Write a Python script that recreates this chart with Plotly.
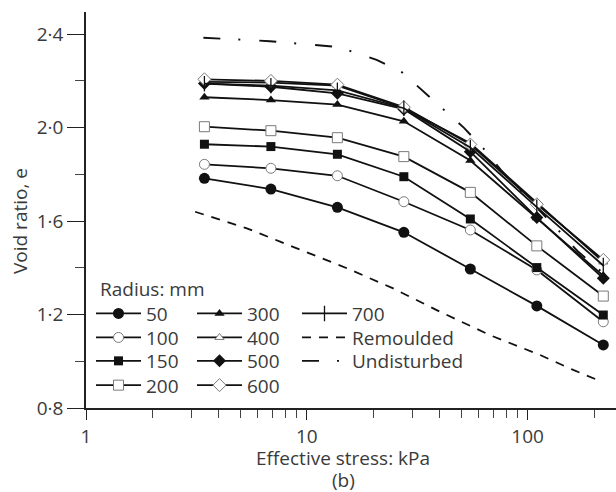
import plotly.graph_objects as go

# ---------------- data ----------------
stress = [3.4375, 6.875, 13.75, 27.5, 55, 110, 220]

e_50  = [1.783, 1.737, 1.659, 1.552, 1.395, 1.237, 1.070]
e_100 = [1.843, 1.826, 1.794, 1.683, 1.562, 1.391, 1.169]
e_150 = [1.929, 1.919, 1.886, 1.790, 1.609, 1.401, 1.198]
e_200 = [2.004, 1.987, 1.957, 1.876, 1.723, 1.494, 1.279]
e_300 = [2.130, 2.118, 2.099, 2.027, 1.859, 1.613, 1.366]
e_400 = [2.196, 2.193, 2.180, 2.084, 1.933, 1.679, 1.425]
e_500 = [2.189, 2.175, 2.147, 2.079, 1.897, 1.615, 1.355]
e_600 = [2.207, 2.200, 2.184, 2.088, 1.928, 1.672, 1.434]
e_700 = [2.188, 2.180, 2.160, 2.083, 1.915, 1.660, 1.410]

remoulded_x = [3.12, 5.35, 7.57, 10.7, 15.2, 24.6, 34.9, 40.1, 67.5, 113.7, 160.8, 212]
remoulded_e = [1.640, 1.569, 1.512, 1.455, 1.398, 1.312, 1.241, 1.212, 1.112, 1.027, 0.963, 0.916]

undisturbed_x = [3.4, 6.8, 13.9, 20.7, 27, 51.5, 62.9, 75.6, 137.5, 168, 215]
undisturbed_e = [2.385, 2.370, 2.345, 2.290, 2.237, 1.999, 1.912, 1.819, 1.562, 1.472, 1.385]

y_ticks = [0.8, 1.2, 1.6, 2.0, 2.4]
y_ticktext = ["0·8", "1·2", "1·6", "2·0", "2·4"]
x_ticks = [1, 10, 100]
x_ticktext = ["1", "10", "100"]
x_minor = [2, 3, 4, 5, 6, 7, 8, 9, 20, 30, 40, 50, 60, 70, 80, 90, 200]
y_minor = [1.0, 1.4, 1.8, 2.2]

x_title = "Effective stress: kPa"
panel_label = "(b)"
y_title = "Void ratio, e"
legend_title = "Radius: mm"

# ---------------- styling ----------------
FONT = "Open Sans"
FS = 19
TXT = "#3a3a3a"
BLACK = "#111111"
GREY = "#7a7a7a"

W, H = 616, 492
ML, MR, MT, MB = 86, 0, 12, 84
PW, PH = W - ML - MR, H - MT - MB

def px_to_paper_x(px):
    return (px - ML) / PW

def py_to_paper_y(py):
    return (H - MB - py) / PH

# legend cells: (column x of legend box, row centre y)
COLS = [91, 192, 297]
ROWS = [314.3, 338.3, 361.7, 386.0]

series = [
    ("50",  e_50,  dict(symbol="circle", size=11, color=BLACK), (0, 0)),
    ("100", e_100, dict(symbol="circle", size=10, color="white", line=dict(color=GREY, width=1)), (0, 1)),
    ("150", e_150, dict(symbol="square", size=9, color=BLACK), (0, 2)),
    ("200", e_200, dict(symbol="square", size=10, color="white", line=dict(color=GREY, width=1)), (0, 3)),
    ("300", e_300, dict(symbol="triangle-up", size=9, color=BLACK), (1, 0)),
    ("400", e_400, dict(symbol="triangle-up", size=8, color="white", line=dict(color=GREY, width=1)), (1, 1)),
    ("500", e_500, dict(symbol="diamond", size=10, color=BLACK), (1, 2)),
    ("600", e_600, dict(symbol="diamond", size=10, color="white", line=dict(color=GREY, width=1)), (1, 3)),
    ("700", e_700, dict(symbol="line-ns", size=11, color=BLACK, line=dict(color=BLACK, width=1.3)), (2, 0)),
]

txt_font = dict(family=FONT, size=FS, color=TXT)

fig = go.Figure()
legends = {}
counter = [0]

def new_legend(cell):
    counter[0] += 1
    key = "legend" if counter[0] == 1 else f"legend{counter[0]}"
    col, row = cell
    legends[key] = dict(
        xref="paper", yref="paper", xanchor="left", yanchor="top",
        x=px_to_paper_x(COLS[col]), y=py_to_paper_y(ROWS[row] - 19.7),
        bgcolor="rgba(0,0,0,0)", borderwidth=0, itemwidth=45,
        font=txt_font, itemclick=False, itemdoubleclick=False,
    )
    return key

fig.add_trace(go.Scatter(
    x=remoulded_x, y=remoulded_e, mode="lines", name="Remoulded",
    line=dict(color=BLACK, width=1.8, dash="9px,8px"), legend=new_legend((2, 1))))
fig.add_trace(go.Scatter(
    x=undisturbed_x, y=undisturbed_e, mode="lines", name="Undisturbed",
    line=dict(color=BLACK, width=1.9, dash="17px,18px,2px,19px"), legend=new_legend((2, 2))))

for name, ys, mk, cell in series:
    fig.add_trace(go.Scatter(
        x=stress, y=ys, mode="lines+markers", name=name,
        line=dict(color=BLACK, width=1.8), marker=mk, legend=new_legend(cell)))

fig.update_layout(
    width=W, height=H,
    margin=dict(l=ML, r=MR, t=MT, b=MB),
    paper_bgcolor="white", plot_bgcolor="white",
    font=txt_font,
    showlegend=True,
    annotations=[
        dict(text=legend_title, xref="paper", yref="paper", showarrow=False,
             x=px_to_paper_x(99), y=py_to_paper_y(289), xanchor="left", yanchor="middle",
             borderpad=0, font=txt_font),
        dict(text=x_title, xref="paper", yref="paper", showarrow=False,
             x=px_to_paper_x(343), y=py_to_paper_y(458), xanchor="center", yanchor="middle",
             borderpad=0, font=txt_font),
        dict(text=panel_label, xref="paper", yref="paper", showarrow=False,
             x=px_to_paper_x(343), y=py_to_paper_y(480), xanchor="center", yanchor="middle",
             borderpad=0, font=txt_font),
        dict(text=y_title, xref="paper", yref="paper", showarrow=False, textangle=-90,
             x=px_to_paper_x(20), y=py_to_paper_y(221), xanchor="center", yanchor="middle",
             font=txt_font),
    ],
    **legends,
)

fig.update_xaxes(
    type="log", range=[0, 2.4],
    tickmode="array", tickvals=x_ticks, ticktext=x_ticktext,
    ticks="outside", ticklen=10, tickwidth=1.3, tickcolor="#222",
    showline=True, linecolor="#222", linewidth=1.5,
    showgrid=False, zeroline=False,
    tickfont=txt_font,
    minor=dict(tickmode="array", tickvals=x_minor, ticks="outside", ticklen=8,
               tickwidth=1, tickcolor="#444", showgrid=False),
    automargin=False,
)
fig.update_yaxes(
    range=[0.8, 2.495],
    tickmode="array", tickvals=y_ticks, ticktext=y_ticktext,
    ticks="outside", ticklen=17, tickwidth=1.3, tickcolor="#222",
    showline=True, linecolor="#222", linewidth=1.5,
    showgrid=False, zeroline=False,
    tickfont=txt_font,
    minor=dict(tickmode="array", tickvals=y_minor, ticks="outside", ticklen=9,
               tickwidth=1, tickcolor="#444", showgrid=False),
    automargin=False,
)

fig.write_html("out.html")
